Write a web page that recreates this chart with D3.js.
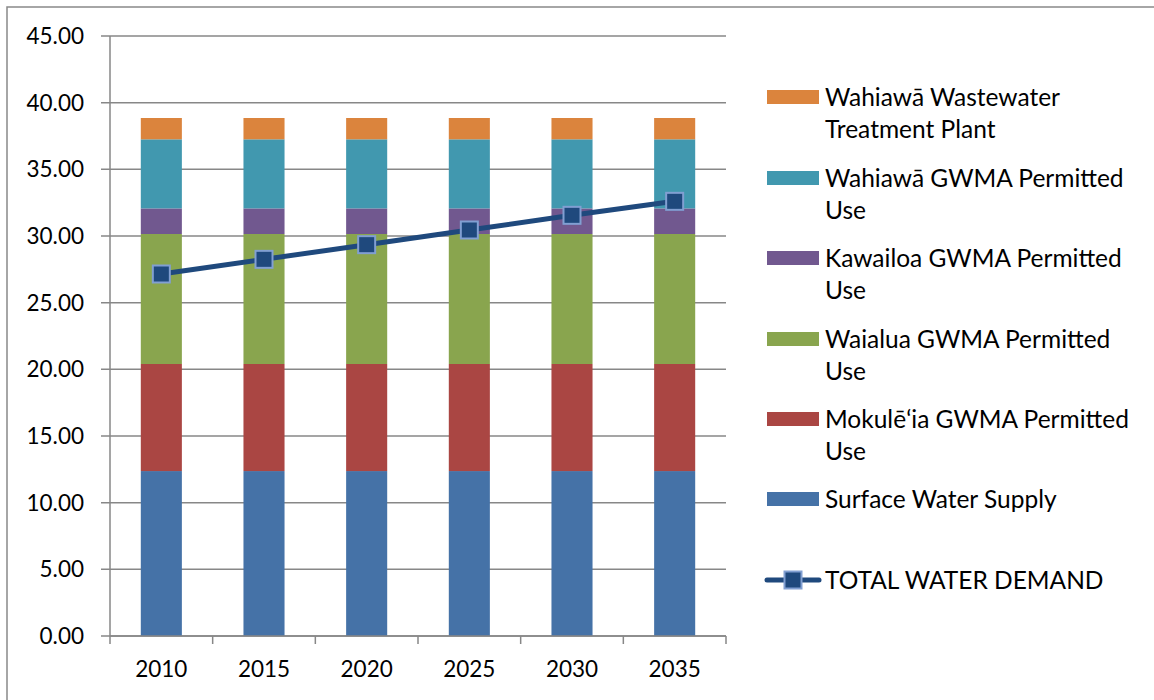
<!DOCTYPE html>
<html><head><meta charset="utf-8">
<script src="https://cdn.jsdelivr.net/npm/d3@7"></script>
<style>body{margin:0;background:#fff;}svg{display:block;font-family:Lato, "Open Sans", sans-serif;}</style>
</head><body>
<svg id="c" width="1154" height="700"></svg>
<script>
const years = ["2010","2015","2020","2025","2030","2035"];
const surfaceWater = [12.37,12.37,12.37,12.37,12.37,12.37];
const mokuleia = [8.03,8.03,8.03,8.03,8.03,8.03];
const waialua = [9.75,9.75,9.75,9.75,9.75,9.75];
const kawailoa = [1.92,1.92,1.92,1.92,1.92,1.92];
const wahiawaGWMA = [5.18,5.18,5.18,5.18,5.18,5.18];
const wahiawaWWTP = [1.6,1.6,1.6,1.6,1.6,1.6];
const totalDemand = [27.15,28.25,29.35,30.45,31.55,32.6];
const yTicks = [0,5,10,15,20,25,30,35,40,45];

const seriesNames = ["Surface Water Supply","Mokulēʻia GWMA Permitted Use","Waialua GWMA Permitted Use","Kawailoa GWMA Permitted Use","Wahiawā GWMA Permitted Use","Wahiawā Wastewater Treatment Plant"];
const seriesData = [surfaceWater,mokuleia,waialua,kawailoa,wahiawaGWMA,wahiawaWWTP];
const colors = ["#4572a7","#aa4643","#89a54e","#71588f","#4198af","#db843d"];
const legendLines = [["Surface Water Supply"],["Mokulēʻia GWMA Permitted","Use"],["Waialua GWMA Permitted","Use"],["Kawailoa GWMA Permitted","Use"],["Wahiawā GWMA Permitted","Use"],["Wahiawā Wastewater","Treatment Plant"]];

const svg = d3.select("#c");
svg.append("rect").attr("x",7).attr("y",7).attr("width",1160).attr("height",710).attr("fill","none").attr("stroke","#898989").attr("stroke-width",1.5);

const x0=110,x1=726,yTop=36,yBot=636;
const x = d3.scaleBand().domain(years).range([x0,x1]).paddingInner(0.6).paddingOuter(0.3);
const xb = d3.scaleBand().domain(years).range([x0,x1]);
const y = d3.scaleLinear().domain([0,45]).range([yBot,yTop]);

// grid
const g = svg.append("g");
g.selectAll("line.grid").data(yTicks).join("line").attr("class","grid")
 .attr("x1",101).attr("x2",x1).attr("y1",d=>y(d)).attr("y2",d=>y(d))
 .attr("stroke","#878787").attr("stroke-width",1.5);
g.selectAll("text.yl").data(yTicks).join("text").attr("class","yl")
 .attr("x",84).attr("y",d=>y(d)).attr("dy","0.36em").attr("text-anchor","end")
 .attr("font-size",22.5).attr("fill","#000").text(d=>d.toFixed(2));

// stacked
const stackInput = years.map((yr,i)=>{const o={year:yr};seriesNames.forEach((n,j)=>o[n]=seriesData[j][i]);return o;});
const stacked = d3.stack().keys(seriesNames)(stackInput);
stacked.forEach((s,j)=>{
  svg.append("g").selectAll("rect").data(s).join("rect")
   .attr("x",d=>x(d.data.year)).attr("width",x.bandwidth())
   .attr("y",d=>y(d[1])).attr("height",d=>y(d[0])-y(d[1]))
   .attr("fill",colors[j]);
});

// axes
svg.append("line").attr("x1",x0).attr("x2",x0).attr("y1",yTop).attr("y2",yBot).attr("stroke","#878787").attr("stroke-width",1.5);
svg.append("line").attr("x1",x0).attr("x2",x1).attr("y1",yBot).attr("y2",yBot).attr("stroke","#878787").attr("stroke-width",1.5);
const bounds = years.map(d=>xb(d)).concat([x1]);
svg.selectAll("line.xt").data(bounds).join("line").attr("class","xt")
 .attr("x1",d=>d).attr("x2",d=>d).attr("y1",yBot).attr("y2",644).attr("stroke","#878787").attr("stroke-width",1.5);
svg.selectAll("text.xl").data(years).join("text").attr("class","xl")
 .attr("x",d=>xb(d)+xb.bandwidth()/2).attr("y",669).attr("dy","0.36em").attr("text-anchor","middle")
 .attr("font-size",22.5).attr("fill","#000").text(d=>d);

// line
const line = d3.line().x((d,i)=>xb(years[i])+xb.bandwidth()/2).y(d=>y(d));
svg.append("path").datum(totalDemand).attr("d",line).attr("fill","none").attr("stroke","#1f497d").attr("stroke-width",5);
svg.selectAll("rect.mk").data(totalDemand).join("rect").attr("class","mk")
 .attr("x",(d,i)=>xb(years[i])+xb.bandwidth()/2-8.5).attr("y",d=>y(d)-8.5)
 .attr("width",17).attr("height",17).attr("fill","#1f497d").attr("stroke","#819fd2").attr("stroke-width",2);

// legend
const legY = [499,419,339,258,178,97];
seriesNames.forEach((n,j)=>{
  svg.append("rect").attr("x",767).attr("y",legY[j]-7).attr("width",52).attr("height",14).attr("fill",colors[j]);
  legendLines[j].forEach((t,k)=>{
    svg.append("text").attr("x",825).attr("y",legY[j]+k*32).attr("dy","0.36em").attr("font-size",24.5).attr("fill","#000").text(t);
  });
});
const ly=580;
svg.append("line").attr("x1",767).attr("x2",819).attr("y1",ly).attr("y2",ly).attr("stroke","#1f497d").attr("stroke-width",5).attr("stroke-linecap","round");
svg.append("rect").attr("x",793-8.5).attr("y",ly-8.5).attr("width",17).attr("height",17).attr("fill","#1f497d").attr("stroke","#819fd2").attr("stroke-width",2);
svg.append("text").attr("x",825).attr("y",ly).attr("dy","0.36em").attr("font-size",24.5).attr("fill","#000").text("TOTAL WATER DEMAND");
</script>
</body></html>
